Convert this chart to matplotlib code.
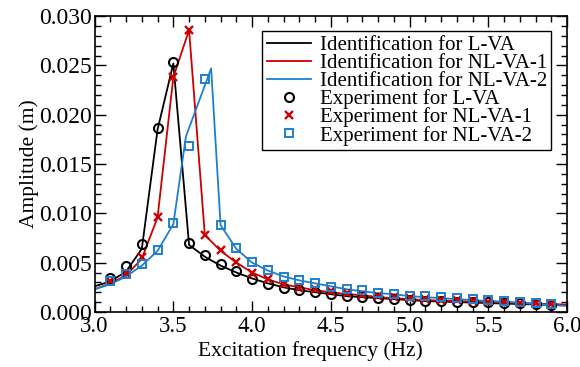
import matplotlib
matplotlib.use("Agg")
import matplotlib.pyplot as plt
from matplotlib.ticker import MultipleLocator, FormatStrFormatter

plt.rcParams['font.family'] = ['Liberation Serif', 'DejaVu Serif']
plt.rcParams['mathtext.fontset'] = 'stix'

# Identification curves
freq_id_lva = [3.0, 3.1, 3.2, 3.3, 3.4, 3.5, 3.6, 3.7, 3.8, 3.9, 4.0, 4.1, 4.2, 4.3, 4.4, 4.5,
               4.6, 4.7, 4.8, 4.9, 5.0, 5.1, 5.2, 5.3, 5.4, 5.5, 5.6, 5.7, 5.8, 5.9, 6.0]
amp_id_lva = [0.0026, 0.0031, 0.0041, 0.0064, 0.0185, 0.0252, 0.0068, 0.0056, 0.0047, 0.0040,
              0.0034, 0.0029, 0.0025, 0.0022, 0.0020, 0.0018, 0.0016, 0.0015, 0.0014, 0.0013,
              0.0012, 0.0011, 0.00105, 0.0010, 0.00095, 0.0009, 0.00085, 0.0008, 0.00076,
              0.00072, 0.00068]

freq_id_nl1 = [3.0, 3.1, 3.2, 3.3, 3.4, 3.5, 3.6, 3.7, 3.8, 3.9, 4.0, 4.1, 4.2, 4.3, 4.4, 4.5,
               4.6, 4.7, 4.8, 4.9, 5.0, 5.1, 5.2, 5.3, 5.4, 5.5, 5.6, 5.7, 5.8, 5.9, 6.0]
amp_id_nl1 = [0.0023, 0.0029, 0.0037, 0.0054, 0.0096, 0.0238, 0.0286, 0.0078, 0.0062, 0.0050,
              0.0040, 0.0033, 0.0028, 0.0025, 0.0022, 0.0020, 0.0018, 0.0017, 0.0015, 0.0014,
              0.0013, 0.0012, 0.00115, 0.0011, 0.00105, 0.0010, 0.00095, 0.0009, 0.00085,
              0.0008, 0.00075]

freq_id_nl2 = [3.0, 3.1, 3.2, 3.3, 3.4, 3.5, 3.58, 3.74, 3.8, 3.9, 4.0, 4.1, 4.2, 4.3, 4.4, 4.5,
               4.6, 4.7, 4.8, 4.9, 5.0, 5.1, 5.2, 5.3, 5.4, 5.5, 5.6, 5.7, 5.8, 5.9, 6.0]
amp_id_nl2 = [0.0023, 0.0028, 0.0036, 0.0047, 0.0062, 0.0089, 0.0178, 0.0247, 0.0088, 0.0064,
              0.0050, 0.0042, 0.0036, 0.0032, 0.0029, 0.0026, 0.0023, 0.0021, 0.0019, 0.0018,
              0.0016, 0.0015, 0.0014, 0.0013, 0.0012, 0.0011, 0.00105, 0.00095, 0.0008,
              0.0007, 0.0006]

# Experiments
freq_exp = [3.1, 3.2, 3.3, 3.4, 3.5, 3.6, 3.7, 3.8, 3.9, 4.0, 4.1, 4.2, 4.3, 4.4, 4.5,
            4.6, 4.7, 4.8, 4.9, 5.0, 5.1, 5.2, 5.3, 5.4, 5.5, 5.6, 5.7, 5.8, 5.9]
amp_exp_lva = [0.00348, 0.00466, 0.0069, 0.0187, 0.0253, 0.0070, 0.00575, 0.00486, 0.00416,
               0.00334, 0.0028, 0.00246, 0.0022, 0.00198, 0.0018, 0.00158, 0.00149, 0.00139,
               0.00129, 0.00122, 0.00115, 0.0011, 0.00105, 0.0010, 0.00098, 0.00095, 0.0009,
               0.00085, 0.00075]
amp_exp_nl1 = [0.0031, 0.0039, 0.0056, 0.00966, 0.0238, 0.02858, 0.0078, 0.00628, 0.0051,
               0.0039, 0.00334, 0.0028, 0.00246, 0.0023, 0.0021, 0.0019, 0.0017, 0.0016,
               0.0015, 0.0014, 0.0013, 0.0012, 0.0012, 0.0011, 0.00105, 0.0010, 0.00095,
               0.00088, 0.0008]
amp_exp_nl2 = [0.00314, 0.0038, 0.00483, 0.0063, 0.00905, 0.01686, 0.02365, 0.00885, 0.00645,
               0.00503, 0.00426, 0.00358, 0.00324, 0.0029, 0.00257, 0.00233, 0.0022, 0.00196,
               0.00186, 0.00165, 0.00162, 0.00155, 0.00145, 0.00129, 0.00122, 0.00115,
               0.00105, 0.00088, 0.00078]

c_black = '#000000'
c_red = '#cc0000'
c_blue = '#1f7fcc'

fig = plt.figure(figsize=(5.8, 3.67), dpi=100)
ax = fig.add_axes([0.163, 0.150, 0.815, 0.806])

ax.plot(freq_id_lva, amp_id_lva, color=c_black, lw=1.3, label='Identification for L-VA')
ax.plot(freq_id_nl1, amp_id_nl1, color=c_red, lw=1.3, label='Identification for NL-VA-1')
ax.plot(freq_id_nl2, amp_id_nl2, color=c_blue, lw=1.3, label='Identification for NL-VA-2')
ax.plot(freq_exp, amp_exp_lva, ls='none', marker='o', ms=6.5, mfc='none', mec=c_black, mew=1.5,
        label='Experiment for L-VA')
ax.plot(freq_exp, amp_exp_nl1, ls='none', marker='x', ms=6, mec=c_red, mew=1.7,
        label='Experiment for NL-VA-1')
ax.plot(freq_exp, amp_exp_nl2, ls='none', marker='s', ms=5.5, mfc='none', mec=c_blue, mew=1.4,
        label='Experiment for NL-VA-2')

ax.set_xlim(3.0, 6.0)
ax.set_ylim(0.0, 0.030)
ax.xaxis.set_major_locator(MultipleLocator(0.5))
ax.xaxis.set_minor_locator(MultipleLocator(0.1))
ax.yaxis.set_major_locator(MultipleLocator(0.005))
ax.yaxis.set_minor_locator(MultipleLocator(0.001))
ax.xaxis.set_major_formatter(FormatStrFormatter('%.1f'))
ax.yaxis.set_major_formatter(FormatStrFormatter('%.3f'))
ax.tick_params(which='both', direction='in', top=True, right=True, width=1)
ax.tick_params(axis='y', labelsize=17)
ax.tick_params(axis='x', labelsize=16.5)
ax.tick_params(which='major', length=8)
ax.tick_params(which='minor', length=4)
ax.tick_params(axis='y', which='major', pad=2)
ax.tick_params(axis='x', which='major', pad=3)
for s in ax.spines.values():
    s.set_linewidth(1.2)

ax.set_xlabel('Excitation frequency (Hz)', fontsize=15.5, labelpad=0)
ax.xaxis.set_label_coords(0.456, -0.1, transform=ax.transAxes)
ax.xaxis.label.set_va('top')
ax.set_ylabel('Amplitude (m)', fontsize=15.5, labelpad=0)

leg = ax.legend(loc='upper right', bbox_to_anchor=(0.966, 0.949), fontsize=15, frameon=True,
                fancybox=False, edgecolor='black', framealpha=1, handlelength=2.15,
                labelspacing=-0.08, borderpad=0.2, handletextpad=0.4, borderaxespad=0.0)
leg.get_frame().set_linewidth(1.0)

fig.savefig('out.png', dpi=100)
